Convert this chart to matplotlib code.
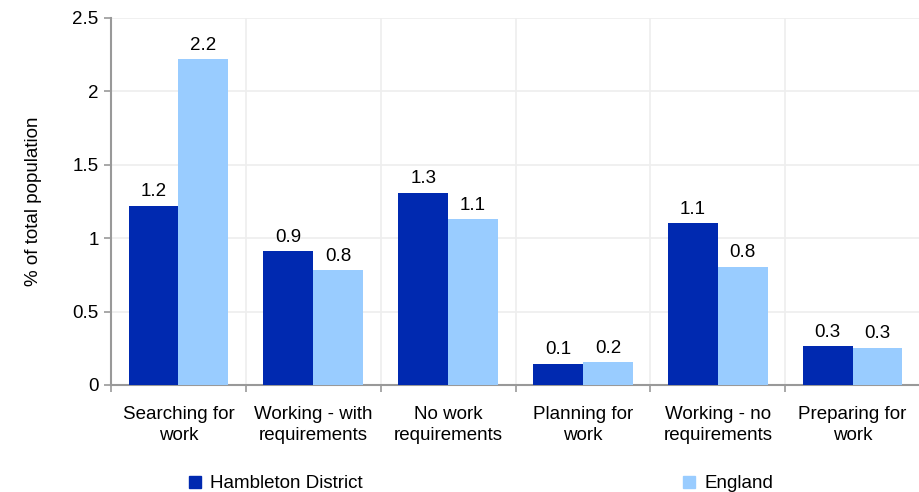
import numpy as np
import matplotlib.pyplot as plt
from matplotlib.patches import Patch

plt.rcParams["font.family"] = ["Liberation Sans", "DejaVu Sans"]

categories = ["Searching for\nwork", "Working - with\nrequirements", "No work\nrequirements",
              "Planning for\nwork", "Working - no\nrequirements", "Preparing for\nwork"]
hambleton = [1.22, 0.91, 1.31, 0.145, 1.10, 0.265]
england = [2.22, 0.78, 1.13, 0.155, 0.805, 0.255]
series_names = ["Hambleton District", "England"]

dark = "#0029b0"
light = "#99ccff"
grey = "#999999"
fs = 13.5

fig = plt.figure(figsize=(9.2, 4.92), dpi=100)
ax = fig.add_axes([0.1207, 0.2175, 0.8793, 0.746])

x = np.arange(len(categories))
w = 0.37
b1 = ax.bar(x - w / 2, hambleton, w, color=dark, zorder=3)
b2 = ax.bar(x + w / 2, england, w, color=light, zorder=3)

for bars, vals in ((b1, hambleton), (b2, england)):
    for rect, v in zip(bars, vals):
        ax.annotate(f"{v:.1f}", (rect.get_x() + rect.get_width() / 2, rect.get_height()),
                    xytext=(0, 4), textcoords="offset points", ha="center", va="bottom",
                    fontsize=fs)

ax.set_xlim(-0.5, len(categories) - 0.5)
ax.set_ylim(0, 2.5)
ax.set_yticks([0, 0.5, 1, 1.5, 2, 2.5])
ax.set_yticklabels(["0", "0.5", "1", "1.5", "2", "2.5"])
ax.set_xticks(x)
ax.set_xticklabels(categories, fontsize=fs, linespacing=1.35)
ax.set_xticks(np.arange(len(categories) + 1) - 0.5, minor=True)
ax.tick_params(axis="x", which="major", length=0, pad=15)
ax.tick_params(axis="x", which="minor", length=5, color=grey, width=1.2)
ax.tick_params(axis="y", length=5, color=grey, width=1.2, labelsize=fs, pad=4)

ax.grid(axis="y", color="#eeeeee", lw=1.2, zorder=0)
ax.grid(axis="x", which="minor", color="#eeeeee", lw=1.2, zorder=0)
for s in ("top", "right"):
    ax.spines[s].set_visible(False)
for s in ("left", "bottom"):
    ax.spines[s].set_color(grey)
    ax.spines[s].set_linewidth(1.5)

ax.set_ylabel("% of total population", fontsize=fs)
ax.yaxis.set_label_coords(-0.085, 0.5)

handles = [Patch(color=dark, label=series_names[0]), Patch(color=light, label=series_names[1])]
fig.legend(handles=handles, loc="lower left", bbox_to_anchor=(0.187, -0.035), ncol=2,
           frameon=False, fontsize=fs, handlelength=0.65, handleheight=0.65,
           handletextpad=0.5, columnspacing=17.05)

fig.savefig("out.png", dpi=100)
